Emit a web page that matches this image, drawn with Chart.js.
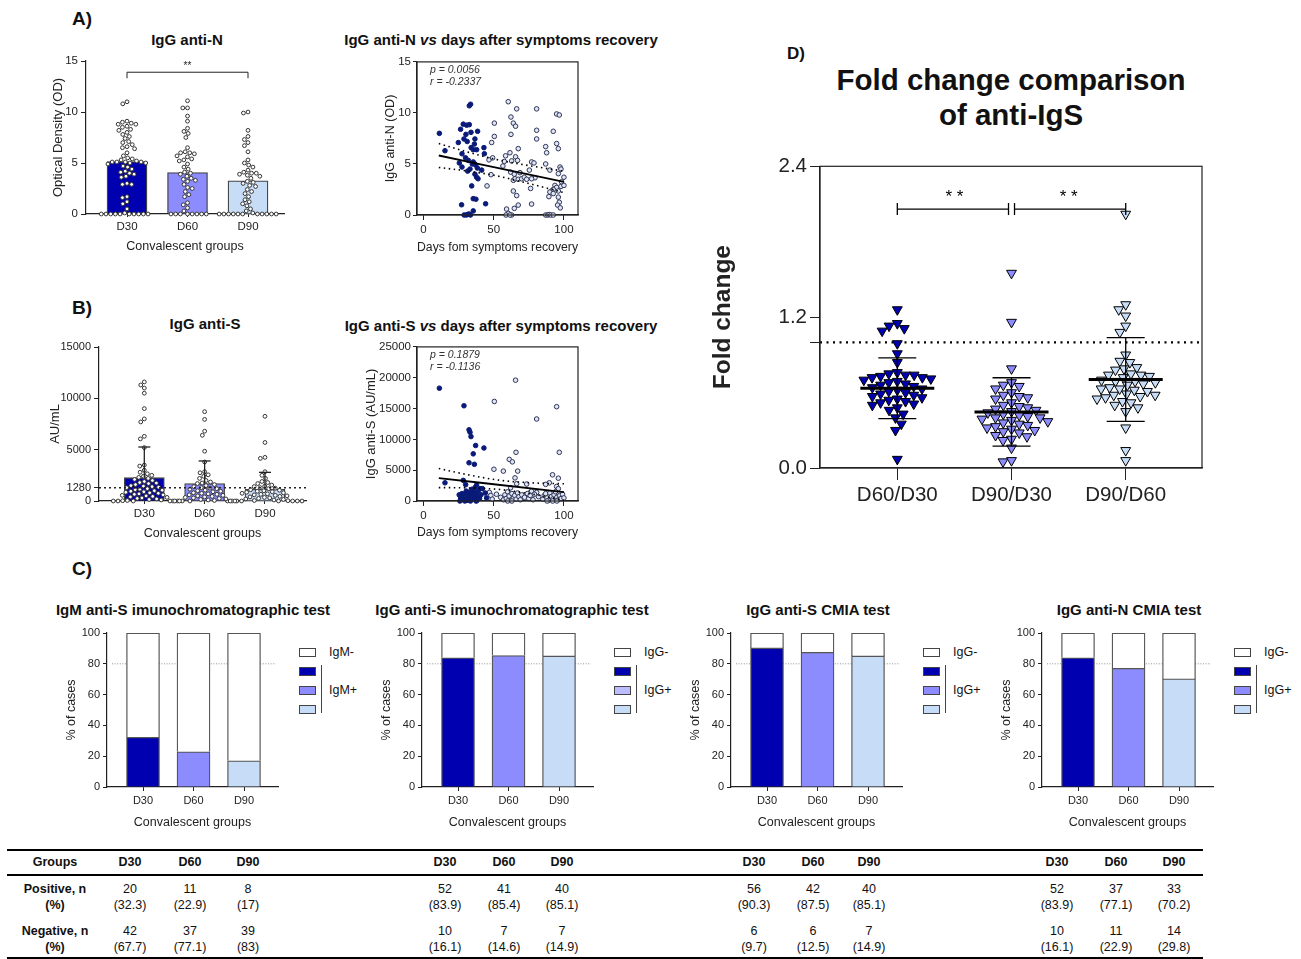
<!DOCTYPE html>
<html>
<head>
<meta charset="utf-8">
<script src="https://cdn.jsdelivr.net/npm/chart.js@4.4.1/dist/chart.umd.min.js"></script>
<style>
  body { margin: 0; background: #fff; font-family: "Liberation Sans", Arial, sans-serif; color: #111; }
  #page { position: relative; width: 1301px; height: 959px; overflow: hidden; }
  .lbl { position: absolute; white-space: nowrap; line-height: 1; }
  .rule { position: absolute; background: #000; }
</style>
</head>
<body>
<div id="page"></div>
<script>
// ---- data ----
const groups = ["D30", "D60", "D90"];
const ratios = ["D60/D30", "D90/D30", "D90/D60"];

// A) IgG anti-N, optical density per patient
const antiN_D30 = [11.0, 10.8, 9.1, 9.0, 8.9, 8.8, 8.8, 8.6, 8.5, 8.3, 8.2, 8.0, 7.8, 7.6, 7.4, 7.1, 7.0, 6.8, 6.6, 6.5,
  6.4, 6.0, 5.7, 5.5, 5.4, 5.3, 5.2, 5.1, 5.1, 5.1, 5.1, 5.0, 5.0, 4.9, 4.7, 4.6, 4.4, 4.2, 4.1, 4.0,
  3.9, 3.7, 3.6, 3.0, 2.9, 2.9, 1.7, 1.6, 1.2, 1.0, 0.5, 0.1, 0, 0, 0, 0, 0, 0, 0, 0, 0, 0];
const antiN_D60 = [11.1, 10.4, 10.4, 9.6, 9.1, 8.4, 8.1, 7.9, 7.5, 6.5, 6.1, 6.0, 6.0, 5.9, 5.7, 5.6, 5.4, 5.3, 5.2, 4.9,
  4.6, 4.4, 4.1, 4.0, 3.9, 3.7, 3.5, 3.4, 3.3, 3.2, 2.9, 2.6, 2.5, 2.2, 1.9, 1.7, 1.1, 0.9, 0.6, 0.3,
  0, 0, 0, 0, 0, 0, 0, 0];
const antiN_D90 = [10.0, 9.9, 8.2, 7.6, 7.3, 7.0, 6.7, 6.1, 5.3, 5.0, 4.8, 4.6, 4.3, 4.1, 4.0, 4.0, 3.9, 3.8, 3.7, 3.5,
  3.2, 3.1, 3.0, 2.8, 2.7, 2.4, 2.2, 2.0, 1.7, 1.4, 1.2, 1.0, 0.8, 0.5, 0.3, 0.1,
  0, 0, 0, 0, 0, 0, 0, 0, 0, 0, 0];
const antiN_mean = [5.15, 4.07, 3.26];

// A) anti-N vs days, [day, OD]
const antiN_days_D30 = [[11.4,8.0],[15.4,6.3],[24.9,7.1],[26.5,8.4],[28.4,8.9],[30.8,8.8],[32.7,8.85],[32.7,10.7],[33.6,10.85],
  [30.3,7.9],[28.9,7.45],[33.9,8.1],[36.7,7.45],[38.6,8.2],[36.3,6.95],[35.5,6.4],[37.9,6.4],[43.1,6.6],[43.4,6.0],[27.5,6.0],
  [25.6,5.1],[27.5,4.7],[32,5.35],[35.5,5.2],[37.2,4.9],[38.4,4.6],[41.5,4.4],[33.2,4.5],[31.5,4.3],[36.7,4.0],[37.9,3.7],
  [38.9,3.55],[34.4,2.85],[35.5,1.6],[37.4,1.55],[44.3,1.1],[35.5,0.4],[27.2,1.0],[29,0],[30.5,0],[31.5,0.05],[32.5,0.1],
  [33.5,0],[30,5.6],[34.8,5.0],[36.2,5.05],[31.2,7.2],[34,6.6]];
const antiN_days_later = [[60.4,11.1],[66.4,10.4],[80.6,10.4],[62.3,9.6],[64,9.0],[65.6,8.7],[50.5,9.0],[50.5,7.7],[48.6,7.1],
  [62.3,7.9],[67.5,6.5],[80.6,8.3],[80.6,7.45],[87,6.7],[87.7,6.1],[92.4,8.2],[94.8,7.0],[96,6.5],[94.8,9.9],[96.7,9.8],
  [46.7,5.4],[49.3,5.6],[58.5,5.8],[61.6,6.1],[57.6,5.25],[62.8,5.3],[65.6,5.7],[67,5.35],[68.7,4.15],[48.1,3.95],[45.3,2.85],
  [56.6,4.8],[62.1,4.2],[64.7,4.0],[64,3.4],[65.2,3.55],[67.5,3.5],[69.9,3.55],[71.8,3.7],[64,2.35],[66.4,1.9],[67.5,0.97],
  [64.7,0.65],[59.2,0.58],[60.4,0.16],[62.8,0],[58.8,0],[61.6,0],[77,5.2],[78.7,5.1],[75.4,4.4],[76.3,2.6],[77,1.07],[73.5,3.5],
  [87,5.0],[90,4.4],[97.2,4.7],[97.9,4.5],[96,4.05],[100,3.7],[98.3,3.25],[93.6,2.9],[94.8,2.7],[97.9,2.8],[100,2.9],[92.4,2.5],
  [91.2,2.35],[90,2.25],[92.4,2.1],[96,2.35],[89.3,1.8],[96,1.75],[96.7,1.25],[95.5,0.97],[97.4,0.7],[87,0],[88.5,0],[89.5,0.05],
  [90.7,0],[92.4,0],[79.4,3.65],[77,3.55]];
const antiN_fit = [[11,5.83],[100,3.24]];
const antiN_fitUpper = [[11,7.0],[30,6.23],[50,5.5],[70,4.96],[100,4.29]];
const antiN_fitLower = [[11,4.66],[30,4.33],[50,3.9],[70,3.26],[100,2.19]];

// B) IgG anti-S, AU/mL per patient
const antiS_D30 = [11600, 11300, 11000, 10500, 9000, 8000, 7700, 6300, 6050, 5200, 3500, 3400, 3000, 2800, 2650, 2500, 2400,
  2300, 2100, 2000, 1900, 1750, 1700, 1600, 1500, 1450, 1350, 1300, 1200, 1150, 1050, 1000, 950, 850, 800, 750, 700, 650,
  600, 500, 450, 400, 350, 300, 250, 200, 150, 100, 50, 30, 0, 0, 0, 0, 0, 0, 2200, 1800, 1400, 1100, 900, 550];
const antiS_D60 = [8700, 7950, 6800, 6400, 4850, 3800, 2850, 2750, 2550, 2400, 2200, 2000, 1850, 1700, 1600, 1500, 1400, 1300,
  1200, 1150, 1050, 1000, 950, 900, 800, 750, 700, 650, 600, 550, 500, 450, 400, 350, 300, 250, 200, 150, 100, 50,
  0, 0, 0, 0, 0, 0, 1750, 1250];
const antiS_D90 = [8250, 5700, 4250, 4150, 2850, 2500, 2200, 1900, 1800, 1700, 1550, 1450, 1400, 1300, 1250, 1200, 1100, 1050,
  1000, 950, 900, 850, 800, 750, 700, 650, 600, 550, 500, 450, 400, 350, 300, 250, 200, 150, 100, 50, 30,
  0, 0, 0, 0, 0, 0, 0, 0];
const antiS_mean = [2270, 1690, 1140];
const antiS_sd = [2990, 2210, 1650];
const antiS_cutoff = 1280;

// B) anti-S vs days, [day, AU/mL]
const antiS_days_D30 = [[11.4,18300],[15.4,2950],[28.9,15450],[32.5,11550],[33.2,11150],[33.9,10450],[37.2,9000],[43.1,8600],
  [35.5,7650],[32.5,6200],[36.3,5950],[28.4,3350],[30.1,2650],[37.9,2600],[40.3,2000],[42,2000],[34.4,1450],[25.5,1000],
  [26.5,500],[27,200],[28,800],[29,300],[30,1200],[31,100],[31.5,600],[32,1400],[33,900],[34,250],[35,1100],[35.5,1500],
  [36,700],[36.5,300],[37,1300],[38,50],[38.5,800],[39,1600],[40,400],[41,1000],[44,1300],[45,500],[26,0],[29.5,0],[33.5,0],
  [37.5,0],[27.5,1200],[30.5,1600],[34.5,1900],[36.8,2200]];
const antiS_days_later = [[50.5,16150],[65.6,19600],[80.6,13300],[94.8,15300],[96.7,7900],[65.9,7900],[61.1,6750],[63.3,6350],
  [56.9,4850],[67.1,4850],[65.2,3750],[50.2,5150],[91.9,4250],[96,3700],[89.6,2950],[87,2700],[73.5,2750],[66.4,2800],
  [94.8,2350],[96,2000],[62.1,2150],[80.6,1400],[75.8,1350],[47,1400],[48,900],[49,300],[52,1100],[55,600],[57,200],[58,1000],
  [59,400],[60,1500],[61,800],[62,100],[63,1200],[64,500],[65,900],[66,300],[67,1300],[68,700],[69,200],[70,1000],[72,600],
  [74,1200],[75,400],[76,900],[77,1600],[78,200],[79,1100],[82,700],[85,300],[86,900],[87,1200],[88,500],[89,100],[90,1300],
  [91,700],[92,300],[93,1000],[94,1500],[95,600],[96,200],[97,900],[98,400],[99,1100],[100,500],[60,0],[63,0],[88,0],[92,0],[95,0]];
const antiS_fit = [[11,3720],[100,1450]];
const antiS_fitUpper = [[11,5270],[30,4335],[55,3350],[80,2910],[100,2800]];
const antiS_fitLower = [[11,2170],[30,2135],[55,1850],[80,1010],[100,100]];

// C) serology tests, positive / negative counts and %
const tests = ["IgM anti-S imunochromatographic test", "IgG anti-S imunochromatographic test", "IgG anti-S CMIA test", "IgG anti-N CMIA test"];
const testIg = ["IgM", "IgG", "IgG", "IgG"];
const posN   = [[20, 11, 8], [52, 41, 40], [56, 42, 40], [52, 37, 33]];
const posPct = [[32.3, 22.9, 17], [83.9, 85.4, 85.1], [90.3, 87.5, 85.1], [83.9, 77.1, 70.2]];
const negN   = [[42, 37, 39], [10, 7, 7], [6, 6, 7], [10, 11, 14]];
const negPct = [[67.7, 77.1, 83], [16.1, 14.6, 14.9], [9.7, 12.5, 14.9], [16.1, 22.9, 29.8]];

// D) fold change of anti-IgS
const fc_D60_D30 = [1.26, 1.15, 1.13, 1.11, 1.09, 0.99, 0.91, 0.84, 0.76, 0.75, 0.74, 0.74, 0.73, 0.72, 0.72, 0.71, 0.70, 0.69,
  0.68, 0.67, 0.66, 0.65, 0.64, 0.63, 0.62, 0.61, 0.60, 0.59, 0.58, 0.57, 0.56, 0.55, 0.54, 0.53, 0.52, 0.51, 0.50, 0.48,
  0.46, 0.43, 0.40, 0.35, 0.30, 0.07];
const fc_D90_D30 = [1.55, 1.16, 0.79, 0.68, 0.66, 0.65, 0.63, 0.60, 0.58, 0.57, 0.56, 0.55, 0.52, 0.50, 0.49, 0.48, 0.47, 0.46,
  0.45, 0.44, 0.43, 0.42, 0.41, 0.40, 0.40, 0.39, 0.38, 0.37, 0.36, 0.35, 0.34, 0.33, 0.32, 0.31, 0.30, 0.29, 0.28, 0.26,
  0.25, 0.23, 0.22, 0.16, 0.06, 0.05];
const fc_D90_D60 = [2.02, 1.30, 1.26, 1.21, 1.13, 1.08, 0.90, 0.85, 0.84, 0.80, 0.79, 0.78, 0.75, 0.74, 0.74, 0.73, 0.72, 0.70,
  0.69, 0.69, 0.68, 0.67, 0.66, 0.64, 0.63, 0.63, 0.62, 0.61, 0.59, 0.58, 0.58, 0.57, 0.56, 0.55, 0.53, 0.52, 0.50, 0.48,
  0.45, 0.32, 0.14, 0.06];
const fc_mean = [0.634, 0.446, 0.704];
const fc_sd = [0.242, 0.272, 0.333];

// ---- styles / helpers ----
const NAVY = "#0000b0", LAV = "#8c8cff", LBLUE = "#c6dcf7";
const groupColors = [NAVY, LAV, LBLUE];
const FONT = '"Liberation Sans", Arial, sans-serif';
const INK = "#222";
const page = document.getElementById("page");
Chart.defaults.font.family = FONT;
Chart.defaults.color = INK;

function label(html, x, y, css, anchor) {
  const d = document.createElement("div");
  d.className = "lbl";
  d.innerHTML = html;
  d.style.cssText += `left:${x}px;top:${y}px;` + (css || "");
  d.style.transform = anchor === "l" ? "translate(0,-50%)" : "translate(-50%,-50%)";
  page.appendChild(d);
  return d;
}
function rule(x, y, w, h, color) {
  const d = document.createElement("div");
  d.className = "rule";
  d.style.cssText += `left:${x}px;top:${y}px;width:${w}px;height:${h}px;` + (color ? `background:${color};` : "");
  page.appendChild(d);
}

function axis(min, max, ticks, fmt, size, title, titleSize, tickLen, bold, pad) {
  return {
    type: "linear", min, max, offset: false,
    afterBuildTicks: s => { s.ticks = ticks.map(v => ({ value: v })); },
    ticks: { callback: fmt, font: { size }, color: INK, padding: pad ?? 3, autoSkip: false, maxRotation: 0 },
    grid: { drawOnChartArea: false, drawTicks: true, tickLength: tickLen, color: INK, offset: false },
    border: { display: true, color: INK, width: 1.2 },
    title: title ? { display: true, text: title, color: INK, font: { size: titleSize, weight: bold ? "bold" : "normal" }, padding: 4 }
                 : { display: false }
  };
}

// canvas placed so that the chart area lands on r = {l,t,r,b}
function mkChart(r, yW, xH, padT, padR, cfg) {
  const w = yW + (r.r - r.l) + padR, h = padT + (r.b - r.t) + xH;
  const c = document.createElement("canvas");
  c.width = w; c.height = h;
  c.style.cssText = `position:absolute;left:${r.l - yW}px;top:${r.t - padT}px;width:${w}px;height:${h}px;`;
  page.appendChild(c);
  const o = cfg.options;
  o.responsive = false; o.animation = false; o.devicePixelRatio = 1;
  o.layout = { padding: { top: padT, right: padR, left: 0, bottom: 0 } };
  o.plugins = { legend: { display: false }, tooltip: { enabled: false } };
  o.scales.x.afterFit = s => { s.height = xH; };
  o.scales.y.afterFit = s => { s.width = yW; };
  return new Chart(c, cfg);
}

// beeswarm: horizontal spread of one column, computed in pixels
function swarm(chart, values, center, d) {
  const xs = chart.scales.x, ys = chart.scales.y;
  const ppx = xs.getPixelForValue(center + 1) - xs.getPixelForValue(center);
  const placed = [], out = new Array(values.length);
  const order = values.map((v, i) => i).sort((a, b) => values[b] - values[a]);
  order.forEach(i => {
    const py = ys.getPixelForValue(values[i]);
    const near = placed.filter(p => Math.abs(p.y - py) < d);
    const cands = [0];
    near.forEach(p => { const w = Math.sqrt(d * d - (p.y - py) ** 2); cands.push(p.x - w, p.x + w); });
    cands.sort((a, b) => Math.abs(a) - Math.abs(b));
    const x = cands.find(c => near.every(p => (p.x - c) ** 2 + (p.y - py) ** 2 >= d * d - 0.05));
    placed.push({ x, y: py });
    out[i] = { x: center + x / ppx, y: values[i] };
  });
  return out;
}

const dots = (bg, bc, r, extra) => Object.assign({
  type: "scatter", data: [], pointStyle: "circle", pointRadius: r, pointHoverRadius: r,
  pointBackgroundColor: bg, pointBorderColor: bc, pointBorderWidth: 1, order: 1, clip: false
}, extra || {});
const pairs = a => a.map(p => ({ x: p[0], y: p[1] }));
const fitLine = (a, dash) => ({
  type: "line", data: pairs(a), borderColor: "#000", borderWidth: dash ? 1.6 : 1.8, borderDash: dash ? [1.5, 3.5] : [],
  pointRadius: 0, tension: 0.35, cubicInterpolationMode: "monotone", order: 0, clip: false
});
const boxPlugin = { id: "box", afterDatasetsDraw(ch) {
  const a = ch.chartArea, c = ch.ctx;
  c.save(); c.strokeStyle = INK; c.lineWidth = 1.2;
  c.strokeRect(a.left, a.top, a.right - a.left, a.bottom - a.top); c.restore();
} };
function hline(ch, v, color, width, dash, x0, x1) {
  const c = ch.ctx, y = ch.scales.y.getPixelForValue(v);
  c.save(); c.strokeStyle = color; c.lineWidth = width; c.setLineDash(dash);
  c.beginPath(); c.moveTo(x0 ?? ch.chartArea.left, y); c.lineTo(x1 ?? ch.chartArea.right, y); c.stroke(); c.restore();
}
function seg(c, x0, y0, x1, y1) { c.beginPath(); c.moveTo(x0, y0); c.lineTo(x1, y1); c.stroke(); }

// ---- A) IgG anti-N bars ----
label("A)", 82, 18, "font-weight:bold;font-size:19px;");
label("IgG anti-N", 187, 39, "font-weight:bold;font-size:15px;");
const cA1 = mkChart({ l: 86, t: 61, r: 284, b: 214 }, 39, 44, 12, 6, {
  type: "scatter",
  data: { datasets: [
    { type: "bar", data: antiN_mean.map((m, i) => ({ x: i + 1, y: m })), backgroundColor: groupColors,
      borderColor: "#444", borderWidth: 1.3, barThickness: 40, order: 2 },
    dots("#fff", "#333", 1.9), dots("#fff", "#333", 1.9), dots("#fff", "#333", 1.9)
  ] },
  options: { scales: {
    x: axis(0.322, 3.595, [1, 2, 3], v => groups[v - 1], 11.5, "Convalescent groups", 12.5, 3),
    y: axis(0, 15, [0, 5, 10, 15], v => v, 11.5, "Optical Density (OD)", 13, 5)
  } },
  plugins: [{ id: "sig", afterDatasetsDraw(ch) {
    const c = ch.ctx, xs = ch.scales.x, ys = ch.scales.y;
    const y = ys.getPixelForValue(13.9), x1 = xs.getPixelForValue(1), x3 = xs.getPixelForValue(3);
    c.save(); c.strokeStyle = INK; c.lineWidth = 1;
    seg(c, x1, y + 6, x1, y); seg(c, x1, y, x3, y); seg(c, x3, y, x3, y + 6);
    c.fillStyle = INK; c.font = `10px ${FONT}`; c.textAlign = "center"; c.textBaseline = "bottom";
    c.fillText("**", (x1 + x3) / 2, y - 0.5); c.restore();
  } }]
});
[antiN_D30, antiN_D60, antiN_D90].forEach((v, i) => { cA1.data.datasets[i + 1].data = swarm(cA1, v, i + 1, 4.7); });
cA1.update("none");

// ---- A) anti-N vs days ----
label("IgG anti-N <i>vs</i> days after symptoms recovery", 501, 39, "font-weight:bold;font-size:15px;");
mkChart({ l: 417, t: 61, r: 578, b: 215 }, 38, 44, 8, 8, {
  type: "scatter",
  data: { datasets: [
    fitLine(antiN_fit, false), fitLine(antiN_fitUpper, true), fitLine(antiN_fitLower, true),
    dots("#0a1a78", "#0a1a78", 2.3, { data: pairs(antiN_days_D30) }),
    dots("#dfe5f4", "#2f3556", 2.3, { data: pairs(antiN_days_later) })
  ] },
  options: { scales: {
    x: axis(-4.5, 110, [0, 50, 100], v => v, 11.5, "Days fom symptoms recovery", 12.5, 5),
    y: axis(0, 15, [0, 5, 10, 15], v => v, 11.5, "IgG anti-N (OD)", 12.5, 4, false, 2)
  } },
  plugins: [boxPlugin]
});
label("<i>p = 0.0056</i>", 430, 69, "font-size:10.5px;color:#333;", "l");
label("<i>r = -0.2337</i>", 430, 81, "font-size:10.5px;color:#333;", "l");

// ---- B) IgG anti-S bars ----
label("B)", 82, 307, "font-weight:bold;font-size:19px;");
label("IgG anti-S", 205, 323, "font-weight:bold;font-size:15px;");
const cB1 = mkChart({ l: 99, t: 347, r: 306, b: 501 }, 55, 44, 10, 6, {
  type: "scatter",
  data: { datasets: [
    { type: "bar", data: antiS_mean.map((m, i) => ({ x: i + 1, y: m })), backgroundColor: groupColors,
      borderColor: "#444", borderWidth: 1.3, barThickness: 40, order: 2 },
    dots("#fff", "#333", 1.9), dots("#fff", "#333", 1.9), dots("#fff", "#333", 1.9)
  ] },
  options: { scales: {
    x: axis(0.249, 3.68, [1, 2, 3], v => groups[v - 1], 11.5, "Convalescent groups", 12.5, 3),
    y: axis(0, 15000, [0, antiS_cutoff, 5000, 10000, 15000], v => v, 11, "AU/mL", 13, 5)
  } },
  plugins: [{ id: "sd", afterDatasetsDraw(ch) {
    const c = ch.ctx, xs = ch.scales.x, ys = ch.scales.y;
    c.save(); c.strokeStyle = INK; c.lineWidth = 1.3;
    antiS_mean.forEach((m, i) => {
      const x = xs.getPixelForValue(i + 1), y0 = ys.getPixelForValue(m), y1 = ys.getPixelForValue(m + antiS_sd[i]);
      seg(c, x, y0, x, y1); seg(c, x - 6, y1, x + 6, y1);
    });
    c.restore();
    hline(ch, antiS_cutoff, INK, 1.5, [2, 3]);
  } }]
});
[antiS_D30, antiS_D60, antiS_D90].forEach((v, i) => { cB1.data.datasets[i + 1].data = swarm(cB1, v, i + 1, 4.7); });
cB1.update("none");

// ---- B) anti-S vs days ----
label("IgG anti-S <i>vs</i> days after symptoms recovery", 501, 325, "font-weight:bold;font-size:15px;");
mkChart({ l: 417, t: 346, r: 578, b: 501 }, 57, 43, 8, 8, {
  type: "scatter",
  data: { datasets: [
    fitLine(antiS_fit, false), fitLine(antiS_fitUpper, true), fitLine(antiS_fitLower, true),
    dots("#0a1a78", "#0a1a78", 2.3, { data: pairs(antiS_days_D30) }),
    dots("#dfe5f4", "#2f3556", 2.3, { data: pairs(antiS_days_later) })
  ] },
  options: { scales: {
    x: axis(-4.5, 110, [0, 50, 100], v => v, 11.5, "Days fom symptoms recovery", 12.5, 5),
    y: axis(0, 25000, [0, 5000, 10000, 15000, 20000, 25000], v => v, 11.5, "IgG anti-S (AU/mL)", 13, 4, false, 2)
  } },
  plugins: [boxPlugin]
});
label("<i>p = 0.1879</i>", 430, 354, "font-size:10.5px;color:#333;", "l");
label("<i>r = -0.1136</i>", 430, 366, "font-size:10.5px;color:#333;", "l");

// ---- C) stacked % of cases ----
label("C)", 82, 568, "font-weight:bold;font-size:19px;");
const cLeft = [107, 422, 731, 1042];
const cTitleX = [193, 512, 818, 1129];
tests.forEach((t, k) => {
  const L = cLeft[k];
  label(t, cTitleX[k], 609, "font-weight:bold;font-size:15px;");
  mkChart({ l: L, t: 633, r: L + 171, b: 787 }, 47, 47, 10, 4, {
    type: "bar",
    data: { datasets: [
      { data: posPct[k].map((v, i) => ({ x: i + 1, y: v })), backgroundColor: groupColors,
        borderColor: "#555", borderWidth: 1.3, barThickness: 33, grouped: false },
      { data: negPct[k].map((v, i) => ({ x: i + 1, y: [posPct[k][i], posPct[k][i] + v] })), backgroundColor: "#fff",
        borderColor: "#555", borderWidth: 1.3, barThickness: 33, grouped: false }
    ] },
    options: { scales: {
      x: axis(0.287, 3.673, [1, 2, 3], v => groups[v - 1], 11, "Convalescent groups", 12.5, 4),
      y: axis(0, 100, [0, 20, 40, 60, 80, 100], v => v, 11, "% of cases", 12.5, 4)
    } },
    plugins: [{ id: "ref80", beforeDatasetsDraw(ch) { hline(ch, 80, "#777", 0.8, [1, 1.6], ch.chartArea.left + 5, ch.chartArea.right - 2); } }]
  });
  // legend
  const bx = L + 192, ig = testIg[k];
  const legCols = ["#fff", NAVY, k === 1 ? "#bcbcff" : LAV, LBLUE];
  [652, 671, 690, 709].forEach((y, j) => {
    const d = document.createElement("div");
    d.style.cssText = `position:absolute;left:${bx}px;top:${y - 4}px;width:15px;height:7px;border:1px solid #444;background:${legCols[j]};`;
    page.appendChild(d);
  });
  rule(bx + 22, 665, 1.2, 48, "#444");
  label(ig + "-", bx + 30, 652, "font-size:12.5px;", "l");
  label(ig + "+", bx + 30, 690, "font-size:12.5px;", "l");
});

// ---- D) fold change ----
label("D)", 796, 53, "font-weight:bold;font-size:17px;");
label("Fold change comparison", 1011, 80, "font-weight:bold;font-size:29.5px;");
label("of anti-IgS", 1011, 115, "font-weight:bold;font-size:29.5px;");
const tri = col => dots(col, "#000", 5.7, { pointStyle: "triangle", pointRotation: 180 });
const cD = mkChart({ l: 820, t: 161, r: 1202, b: 468 }, 115, 40, 10, 10, {
  type: "scatter",
  data: { datasets: [tri(NAVY), tri(LAV), tri(LBLUE)] },
  options: { scales: {
    x: axis(0.323, 3.668, [1, 2, 3], v => ratios[v - 1], 20.5, "", 0, 12),
    y: axis(0, 2.4, [0, 1, 1.2, 2.4], v => (v === 1 ? "" : v.toFixed(1)), 20.5, "Fold change", 24.5, 10, true)
  } },
  plugins: [boxPlugin, {
    id: "one", beforeDatasetsDraw(ch) { hline(ch, 1, "#000", 2.2, [2, 4.5]); }
  }, {
    id: "meansd", afterDatasetsDraw(ch) {
      const c = ch.ctx, xs = ch.scales.x, ys = ch.scales.y;
      c.save(); c.strokeStyle = "#000";
      fc_mean.forEach((m, i) => {
        const x = xs.getPixelForValue(i + 1);
        const yu = ys.getPixelForValue(m + fc_sd[i]), yl = ys.getPixelForValue(m - fc_sd[i]), ym = ys.getPixelForValue(m);
        c.lineWidth = 1.3;
        seg(c, x, yu, x, yl); seg(c, x - 19, yu, x + 19, yu); seg(c, x - 19, yl, x + 19, yl);
        c.lineWidth = 3; seg(c, x - 37, ym, x + 37, ym);
      });
      // significance brackets
      const y = ys.getPixelForValue(2.06);
      const x1 = xs.getPixelForValue(1), x2 = xs.getPixelForValue(2), x3 = xs.getPixelForValue(3);
      c.lineWidth = 1.3;
      seg(c, x1, y, x2 - 3, y); seg(c, x1, y - 6, x1, y + 6); seg(c, x2 - 3, y - 6, x2 - 3, y + 6);
      seg(c, x2 + 3, y, x3, y); seg(c, x2 + 3, y - 6, x2 + 3, y + 6); seg(c, x3, y - 6, x3, y + 6);
      c.fillStyle = "#000"; c.font = `17px ${FONT}`; c.textAlign = "center"; c.textBaseline = "middle";
      c.fillText("* *", (x1 + x2) / 2, ys.getPixelForValue(2.15));
      c.fillText("* *", (x2 + x3) / 2, ys.getPixelForValue(2.15));
      c.restore();
    }
  }]
});
[fc_D60_D30, fc_D90_D30, fc_D90_D60].forEach((v, i) => { cD.data.datasets[i].data = swarm(cD, v, i + 1, 8.6); });
cD.update("none");

// ---- table ----
rule(7, 849, 1196, 2);
rule(7, 874, 1196, 1.5);
rule(7, 957, 1196, 1.5);
const colX = [[130, 190, 248], [445, 504, 562], [754, 813, 869], [1057, 1116, 1174]];
const TB = "font-size:12.5px;";
label("Groups", 55, 862, TB + "font-weight:bold;");
label("Positive, n", 55, 889, TB + "font-weight:bold;");
label("(%)", 55, 905, TB + "font-weight:bold;");
label("Negative, n", 55, 931, TB + "font-weight:bold;");
label("(%)", 55, 947, TB + "font-weight:bold;");
colX.forEach((xs, k) => xs.forEach((x, i) => {
  label(groups[i], x, 862, TB + "font-weight:bold;");
  label(String(posN[k][i]), x, 889, TB);
  label("(" + posPct[k][i] + ")", x, 905, TB);
  label(String(negN[k][i]), x, 931, TB);
  label("(" + negPct[k][i] + ")", x, 947, TB);
}));
</script>
</body>
</html>
